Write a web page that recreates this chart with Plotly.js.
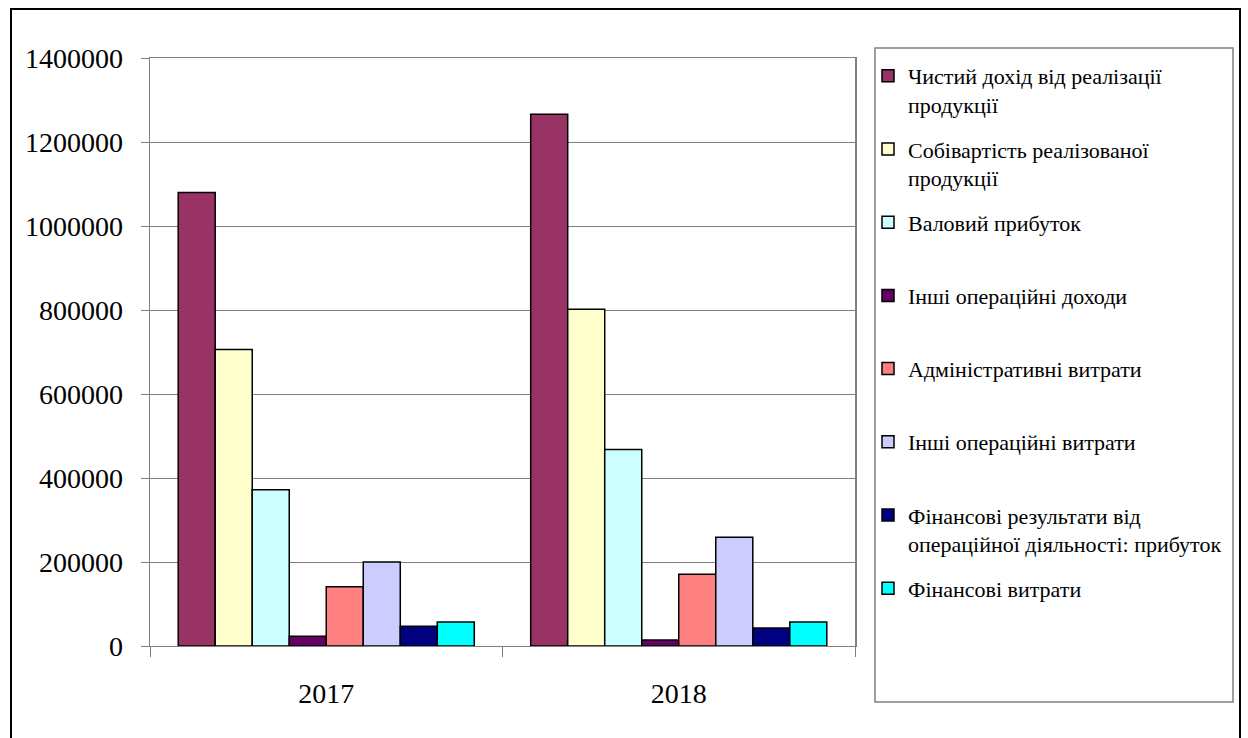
<!DOCTYPE html>
<html>
<head>
<meta charset="utf-8">
<script src="https://cdn.plot.ly/plotly-3.0.1.min.js"></script>
<style>html,body{margin:0;padding:0;background:#fff;}#chart{width:1248px;height:738px;}</style>
</head>
<body>
<div id="chart"></div>
<script>
const years = ['2017', '2018'];
const seriesNames = [
  'Чистий дохід від реалізації<br>продукції',
  'Собівартість реалізованої<br>продукції',
  'Валовий прибуток<br>&nbsp;',
  'Інші операційні доходи<br>&nbsp;',
  'Адміністративні витрати<br>&nbsp;',
  'Інші операційні витрати<br>&nbsp;',
  'Фінансові результати від<br>операційної діяльності: прибуток',
  'Фінансові витрати<br>&nbsp;'
];
const netRevenue   = [1080000, 1266000];
const costOfSales  = [706000, 802000];
const grossProfit  = [372000, 468000];
const otherOpIncome = [23000, 14000];
const adminExpenses = [141000, 171000];
const otherOpExpenses = [200000, 259000];
const operatingProfit = [47000, 43000];
const financeExpenses = [57000, 57000];
const seriesValues = [netRevenue, costOfSales, grossProfit, otherOpIncome, adminExpenses, otherOpExpenses, operatingProfit, financeExpenses];
const colors = ['#993366', '#FFFFCC', '#CCFFFF', '#660066', '#FF8080', '#CCCCFF', '#000080', '#00FFFF'];

const SERIF = 'Liberation Serif, Times New Roman, serif';

const traces = seriesNames.map((n, i) => ({
  type: 'bar',
  x: years,
  y: seriesValues[i],
  name: n,
  legendgroup: 'g' + i,
  marker: {color: colors[i], line: {color: '#000000', width: 1.5}},
  hoverinfo: 'y'
}));

const L = 150, R = 855, T = 58, B = 646;
const W = R - L, H = B - T;
const px = x => (x - L) / W;
const py = y => (B - y) / H;

const layout = {
  width: 1248, height: 738,
  margin: {l: L, r: 1248 - R, t: T, b: 738 - B, pad: 0},
  paper_bgcolor: '#ffffff', plot_bgcolor: '#ffffff',
  font: {family: SERIF, color: '#000000'},
  barmode: 'group',
  bargap: 0.16, bargroupgap: 0,
  showlegend: true,
  legend: {
    x: px(868), y: py(55), xanchor: 'left', yanchor: 'top',
    font: {size: 22, family: SERIF, color: '#000'},
    bgcolor: 'rgba(0,0,0,0)', borderwidth: 0,
    valign: 'top', tracegroupgap: 13, itemwidth: 30,
    traceorder: 'grouped', maxheight: 720
  },
  xaxis: {
    type: 'category', tickson: 'boundaries', ticks: 'outside', ticklen: 10, tickcolor: '#808080',
    showline: true, linecolor: '#808080', linewidth: 1, mirror: true,
    showgrid: false, ticklabelstandoff: 22,
    tickfont: {size: 28, family: SERIF, color: '#000'}
  },
  yaxis: {
    range: [0, 1400000], dtick: 200000, tick0: 0, tickformat: 'd',
    ticks: 'outside', ticklen: 8, tickcolor: '#808080',
    showline: true, linecolor: '#808080', linewidth: 1.5, mirror: true,
    showgrid: true, gridcolor: '#808080', gridwidth: 1, zeroline: false,
    ticklabelstandoff: 12,
    tickfont: {size: 28, family: SERIF, color: '#000'}
  },
  shapes: [
    {type: 'rect', xref: 'paper', yref: 'paper', x0: px(875), x1: px(1233), y0: py(702), y1: py(48),
     line: {color: '#808080', width: 1.5}, fillcolor: 'rgba(0,0,0,0)'},
    {type: 'rect', xref: 'paper', yref: 'paper', x0: px(11), x1: px(1240), y0: py(760), y1: py(9),
     line: {color: '#000000', width: 2}, fillcolor: 'rgba(0,0,0,0)'}
  ]
};

Plotly.newPlot('chart', traces, layout, {displayModeBar: false, staticPlot: true});
</script>
</body>
</html>
